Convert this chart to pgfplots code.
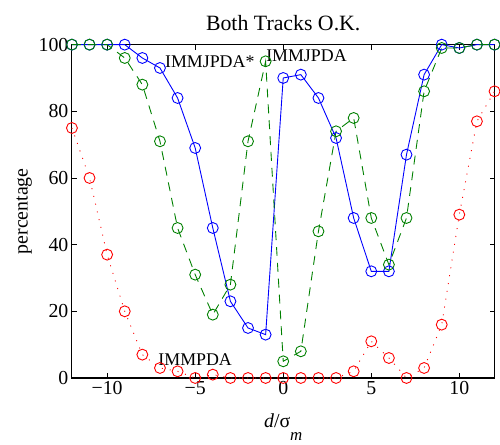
\documentclass[border=0pt]{standalone}
\usepackage{pgfplots}
\pgfplotsset{compat=1.18}
\usepackage{fontspec}
\setmainfont{Liberation Serif}
\definecolor{mblue}{rgb}{0,0,1}
\definecolor{mgreen}{rgb}{0,0.5,0}
\definecolor{mred}{rgb}{1,0,0}
\begin{document}
\begin{tikzpicture}
\begin{axis}[
  scale only axis,
  width=426pt, height=336pt,
  xmin=-12, xmax=12, ymin=0, ymax=100,
  axis line style={line width=1.1pt},
  every tick/.style={black, line width=0.8pt},
  major tick length=5pt,
  tick align=inside,
  xtick={-10,-5,0,5,10},
  xticklabels={−10,−5,0,5,10},
  ytick={0,20,40,60,80,100},
  /pgf/number format/assume math mode=true,
  tick label style={font=\fontsize{20}{22}\selectfont},
  title={Both Tracks O.K.},
  title style={font=\fontsize{22}{24}\selectfont, at={(0.5,1)}, anchor=south, yshift=4pt},
  ylabel={percentage},
  ylabel style={font=\fontsize{20}{22}\selectfont},
  xlabel={\textit{d}/σ\raisebox{-0.68em}{\fontsize{17}{18}\selectfont\textit{m}}},
  xlabel style={font=\fontsize{20}{22}\selectfont, yshift=-12pt},
  clip=false,
]
\addplot[mred, dash pattern=on 1pt off 7pt, line width=0.9pt, mark=o, mark size=5.5pt, mark options={solid, line width=0.9pt}] coordinates {
(-12,75) (-11,60) (-10,37) (-9,20) (-8,7) (-7,3) (-6,2) (-5,0) (-4,1) (-3,0) (-2,0) (-1,0) (0,0) (1,0) (2,0) (3,0) (4,2) (5,11) (6,6) (7,0) (8,3) (9,16) (10,49) (11,77) (12,86)
};
\addplot[mblue, line width=0.9pt, mark=o, mark size=5.5pt, mark options={solid, line width=0.9pt}] coordinates {
(-12,100) (-11,100) (-10,100) (-9,100) (-8,96) (-7,93) (-6,84) (-5,69) (-4,45) (-3,23) (-2,15) (-1,13) (0,90) (1,91) (2,84) (3,72) (4,48) (5,32) (6,32) (7,67) (8,91) (9,100) (10,99) (11,100) (12,100)
};
\addplot[mgreen, line width=0.9pt, dash pattern=on 9pt off 7pt, mark=o, mark size=5.5pt, mark options={solid, line width=0.9pt}] coordinates {
(-12,100) (-11,100) (-10,100) (-9,96) (-8,88) (-7,71) (-6,45) (-5,31) (-4,19) (-3,28) (-2,71) (-1,95) (0,5) (1,8) (2,44) (3,74) (4,78) (5,48) (6,34) (7,48) (8,86) (9,99) (10,99) (11,100) (12,100)
};
\node[font=\fontsize{18}{20}\selectfont, inner sep=0pt] at (axis cs:-4.17,95) {IMMJPDA*};
\node[font=\fontsize{18}{20}\selectfont, inner sep=0pt] at (axis cs:1.32,96.7) {IMMJPDA};
\node[font=\fontsize{18}{20}\selectfont, inner sep=0pt] at (axis cs:-5.0,5.4) {IMMPDA};
\end{axis}
\path[use as bounding box] ([xshift=-72.5pt,yshift=-67pt]current axis.south west) rectangle ([xshift=1.5pt,yshift=45pt]current axis.north east);
\end{tikzpicture}
\end{document}
